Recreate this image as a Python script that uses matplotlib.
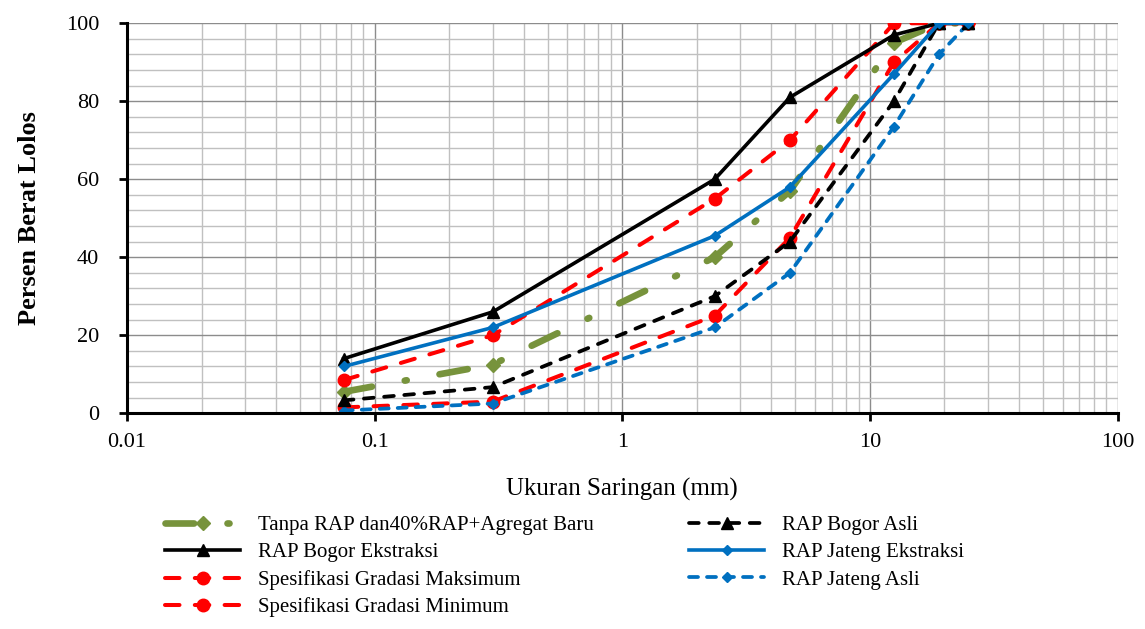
import matplotlib
matplotlib.use("Agg")
import matplotlib.pyplot as plt
from matplotlib.ticker import FixedLocator, LogLocator, NullFormatter, FixedFormatter

plt.rcParams['font.family'] = ['Liberation Serif', 'DejaVu Serif']

# Sieve sizes (mm)
sieve = [0.075, 0.3, 2.36, 4.75, 12.5, 19, 25]

tanpa_rap = [5.5, 12.5, 40, 57, 95, 100, 100]
bogor_ekstraksi = [14, 26, 60, 81, 97, 100, 100]
spec_max = [8.5, 20, 55, 70, 100, 100, 100]
spec_min = [1.5, 3, 25, 45, 90, 100, 100]
bogor_asli = [3.3, 6.7, 30, 44, 80, 100, 100]
jateng_ekstraksi = [12, 22, 45.5, 58, 87, 100, 100]
jateng_asli = [0.7, 2.5, 22, 36, 73.5, 92, 100]

labels = [
    "Tanpa RAP dan40%RAP+Agregat Baru",
    "RAP Bogor Ekstraksi",
    "Spesifikasi Gradasi Maksimum",
    "Spesifikasi Gradasi Minimum",
    "RAP Bogor Asli",
    "RAP Jateng Ekstraksi",
    "RAP Jateng Asli",
]

x_ticks = [0.01, 0.1, 1, 10, 100]
x_ticklabels = ["0.01", "0.1", "1", "10", "100"]
y_ticks = [0, 20, 40, 60, 80, 100]

fig = plt.figure(figsize=(11.45, 6.29), dpi=100)
ax = fig.add_axes([0.111, 0.343, 0.865, 0.620])

green = '#77933C'
red = '#FF0000'
blue = '#0070C0'

h = []
h += ax.plot(sieve, tanpa_rap, color=green, lw=4.8, linestyle=(0, (4.3, 5.0, 0.3, 5.0)),
             dash_capstyle='round', marker='D', ms=7, zorder=3)
h += ax.plot(sieve, bogor_ekstraksi, color='black', lw=2.6, marker='^', ms=8, zorder=4)
h += ax.plot(sieve, spec_max, color=red, lw=2.9, linestyle=(0, (3.6, 3.8)),
             dash_capstyle='round', marker='o', ms=9, zorder=3)
h += ax.plot(sieve, spec_min, color=red, lw=2.9, linestyle=(0, (3.6, 3.8)),
             dash_capstyle='round', marker='o', ms=9, zorder=3)
h += ax.plot(sieve, bogor_asli, color='black', lw=2.7, linestyle=(0, (2.6, 2.8)),
             dash_capstyle='round', marker='^', ms=8, zorder=4)
h += ax.plot(sieve, jateng_ekstraksi, color=blue, lw=2.6, marker='D', ms=5.5, zorder=4)
h += ax.plot(sieve, jateng_asli, color=blue, lw=2.7, linestyle=(0, (2.4, 2.4)),
             dash_capstyle='round', marker='D', ms=5.5, zorder=3)

ax.set_xscale('log')
ax.set_xlim(0.01, 100)
ax.set_ylim(0, 100)

ax.xaxis.set_major_locator(FixedLocator(x_ticks))
ax.xaxis.set_major_formatter(FixedFormatter(x_ticklabels))
ax.xaxis.set_minor_locator(LogLocator(base=10, subs=range(2, 10), numticks=20))
ax.xaxis.set_minor_formatter(NullFormatter())
ax.yaxis.set_major_locator(FixedLocator(y_ticks))
ax.yaxis.set_minor_locator(FixedLocator([v for v in range(0, 101, 4) if v % 20 != 0]))

ax.grid(True, which='major', color='#8C8C8C', lw=1.0, zorder=0)
ax.grid(True, which='minor', color='#C0C0C0', lw=1.0, zorder=0)
ax.set_axisbelow(True)

for s in ['top', 'right']:
    ax.spines[s].set_visible(False)
for s in ['left', 'bottom']:
    ax.spines[s].set_linewidth(2.2)
    ax.spines[s].set_color('black')
    ax.spines[s].set_zorder(5)

ax.tick_params(which='major', direction='out', length=6, width=2, labelsize=16, pad=8)
ax.tick_params(axis='y', which='major', pad=14)
ax.tick_params(which='minor', length=0)

ax.set_xlabel("Ukuran Saringan (mm)", fontsize=18, labelpad=19)
ax.set_ylabel("Persen Berat Lolos", fontsize=19, fontweight='bold', labelpad=18)

fig.legend(h, labels, loc='upper left', bbox_to_anchor=(165 / 1145, 0.180), ncol=2,
           frameon=False, fontsize=15, handlelength=3.6, handletextpad=0.85,
           columnspacing=4.6, labelspacing=0.36, borderpad=0, borderaxespad=0)

fig.savefig("out.png", dpi=100)
